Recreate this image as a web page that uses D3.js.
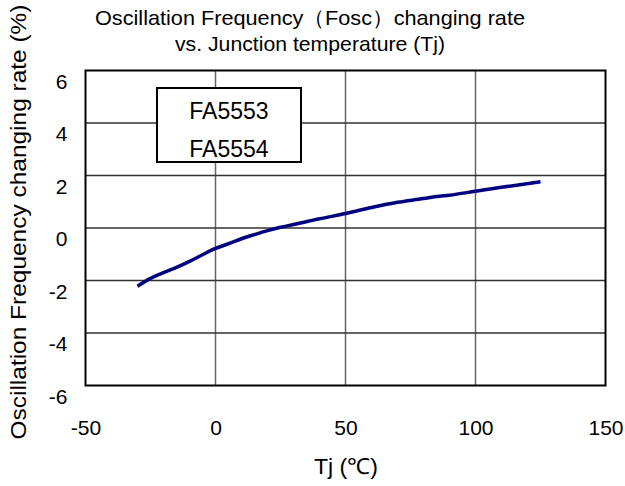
<!DOCTYPE html>
<html><head><meta charset="utf-8">
<script src="https://cdn.jsdelivr.net/npm/d3@7"></script>
<style>body{margin:0;background:#fff}svg{display:block}text{font-family:"Liberation Sans",Arial,sans-serif;fill:#000}</style>
</head><body><svg id="c" width="625" height="486"></svg>
<script>
const tj = [-30, -25, -20, -15, -10, -5, 0, 5, 10, 15, 20, 25, 30, 40, 50, 60, 70, 80, 85, 90, 100, 110, 125];
const rate = [-2.22, -1.92, -1.7, -1.5, -1.27, -1.02, -0.78, -0.6, -0.41, -0.25, -0.1, 0.03, 0.13, 0.35, 0.55, 0.78, 0.98, 1.12, 1.2, 1.25, 1.4, 1.55, 1.76];
const xTicks = [-50, 0, 50, 100, 150];
const yTicks = [-6, -4, -2, 0, 2, 4, 6];
const titleLines = ["Oscillation Frequency（Fosc）changing rate", "vs. Junction temperature (Tj)"];
const legendLines = ["FA5553", "FA5554"];
const xLabel = "Tj (℃)";
const yLabel = "Oscillation Frequency changing rate (%)";

const FONT = '"Liberation Sans",Arial,sans-serif';
const svg = d3.select("#c");
const L = 85.5, R = 605.5, T = 70.5, B = 385.5;
const x = d3.scaleLinear().domain([-50, 150]).range([L, R]);
const y = d3.scaleLinear().domain([-6, 6]).range([B, T]);

// grid
svg.append("g").selectAll("line").data(xTicks.slice(1, -1)).join("line")
  .attr("x1", d => x(d)).attr("x2", d => x(d)).attr("y1", T).attr("y2", B)
  .attr("stroke", "#666").attr("stroke-width", 1.5);
svg.append("g").selectAll("line").data(yTicks.slice(1, -1)).join("line")
  .attr("y1", d => y(d)).attr("y2", d => y(d)).attr("x1", L).attr("x2", R)
  .attr("stroke", "#333").attr("stroke-width", 1.5);
svg.append("rect").attr("x", L).attr("y", T).attr("width", R - L).attr("height", B - T)
  .attr("fill", "none").attr("stroke", "#000").attr("stroke-width", 2);

// axes labels via d3 axes
const xa = svg.append("g").attr("transform", `translate(0,${B})`)
  .call(d3.axisBottom(x).tickValues(xTicks).tickFormat(d => String(d)).tickSize(0).tickPadding(35));
xa.select(".domain").remove();
xa.selectAll("text").attr("font-size", 21).style("font-family", FONT).attr("fill", "#000");
const ya = svg.append("g").attr("transform", `translate(${L},0)`)
  .call(d3.axisLeft(y).tickValues(yTicks).tickFormat(d => String(d)).tickSize(0).tickPadding(18));
ya.select(".domain").remove();
ya.selectAll("text").attr("font-size", 21).attr("dy", "0.85em").style("font-family", FONT).attr("fill", "#000");

// line
svg.append("path").datum(tj.map((t, i) => [t, rate[i]]))
  .attr("fill", "none").attr("stroke", "#000080").attr("stroke-width", 3.5)
  .attr("d", d3.line().x(d => x(d[0])).y(d => y(d[1])).curve(d3.curveMonotoneX));

// legend
svg.append("rect").attr("x", 157).attr("y", 88).attr("width", 144).attr("height", 74)
  .attr("fill", "#fff").attr("stroke", "#000").attr("stroke-width", 2);
svg.selectAll("text.leg").data(legendLines).join("text").attr("class", "leg")
  .attr("x", 229).attr("y", (d, i) => 119 + i * 38).attr("text-anchor", "middle")
  .attr("font-size", 23).text(d => d);

// titles
const tw = [430, 270];
svg.selectAll("text.tt").data(titleLines).join("text").attr("class", "tt")
  .attr("x", 310).attr("y", (d, i) => 25 + i * 26).attr("text-anchor", "middle")
  .attr("font-size", 21).attr("textLength", (d, i) => tw[i]).attr("lengthAdjust", "spacingAndGlyphs").text(d => d);
svg.append("text").attr("x", 346).attr("y", 474).attr("text-anchor", "middle").attr("font-size", 22)
  .attr("textLength", 64).attr("lengthAdjust", "spacingAndGlyphs").text(xLabel);
svg.append("text").attr("transform", "translate(26,222) rotate(-90)").attr("text-anchor", "middle")
  .attr("font-size", 22).attr("textLength", 435).attr("lengthAdjust", "spacingAndGlyphs").text(yLabel);
</script></body></html>
